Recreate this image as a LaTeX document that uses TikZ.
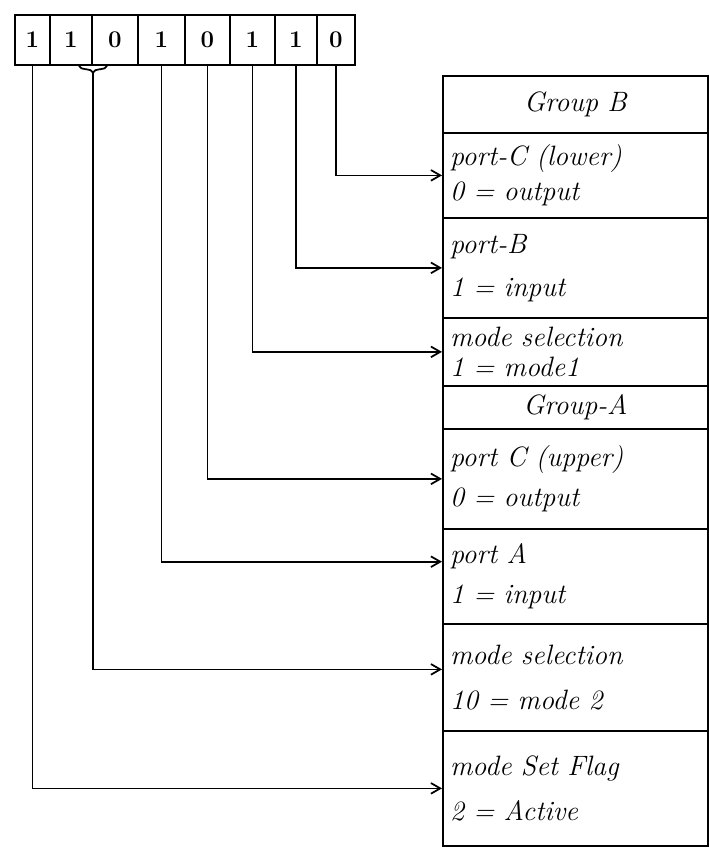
\documentclass[tikz,border=0pt]{standalone}
\usetikzlibrary{arrows.meta,decorations.pathreplacing,calc}
\begin{document}
\begin{tikzpicture}[
    x=0.75pt, y=-0.75pt,
    bit/.style={draw, line width=1.4pt, minimum height=37.5pt, inner sep=0pt, font=\bfseries\fontsize{18}{20}\selectfont},
    row/.style={draw, line width=1.3pt, anchor=north west, minimum width=198.75pt, text width=188pt, align=left, inner sep=5pt, font=\itshape\fontsize{21}{22}\selectfont},
    grp/.style={row, align=center},
    link/.style={line width=1.3pt, -{Straight Barb[length=7pt,width=8pt]}}
]
\useasboundingbox (0,0) rectangle (709,850);
% control word bits
\node[bit, minimum width=26.25pt] (b1) at (32.5,40) {1};
\node[bit, minimum width=31.5pt] (b2) at (71,40) {1};
\node[bit, minimum width=34.5pt] (b3) at (115,40) {0};
\node[bit, minimum width=35.25pt] (b4) at (161.5,40) {1};
\node[bit, minimum width=33.75pt] (b5) at (207.5,40) {0};
\node[bit, minimum width=33.75pt] (b6) at (252.5,40) {1};
\node[bit, minimum width=31.5pt] (b7) at (296,40) {1};
\node[bit, minimum width=28.5pt] (b8) at (336,40) {0};
% brace under bits 2 and 3
\draw[line width=1.3pt, decorate, decoration={brace, mirror, amplitude=5pt}] ([xshift=6pt]b2.south) -- ([xshift=-6pt]b3.south);
\coordinate (brc) at ($(b2.south)!0.5!(b3.south)+(0,-5pt)$);
% register description
\node[grp, minimum height=42.75pt] (gB) at (442,75) {Group B};
\node[row, minimum height=63.75pt] (pCL) at (442,132) {port-C (lower)\\[4pt] 0 = output};
\node[row, minimum height=75pt] (pB) at (442,217) {port-B\\[10pt]1 = input};
\node[row, minimum height=51pt, inner ysep=2pt] (ms1) at (442,317) {mode selection\\[1pt]1 = mode1};
\node[grp, minimum height=32.25pt] (gA) at (442,385) {Group-A};
\node[row, minimum height=75pt] (pCU) at (442,428) {port C (upper)\\[8pt]0 = output};
\node[row, minimum height=71.25pt] (pA) at (442,528) {port A\\[8pt]1 = input};
\node[row, minimum height=80.25pt] (ms2) at (442,623) {mode selection\\[12pt]10 = mode 2};
\node[row, minimum height=86.25pt] (flag) at (442,730) {mode Set Flag\\[12pt]2 = Active};
% links
\draw[link] (b8.south) |- (pCL.west);
\draw[link] (b7.south) |- (pB.west);
\draw[link] (b6.south) |- (ms1.west);
\draw[link] (b5.south) |- (pCU.west);
\draw[link] (b4.south) |- ([yshift=11pt]pA.west);
\draw[link] (brc) |- ([yshift=6pt]ms2.west);
\draw[link] (b1.south) |- (flag.west);
\end{tikzpicture}
\end{document}
